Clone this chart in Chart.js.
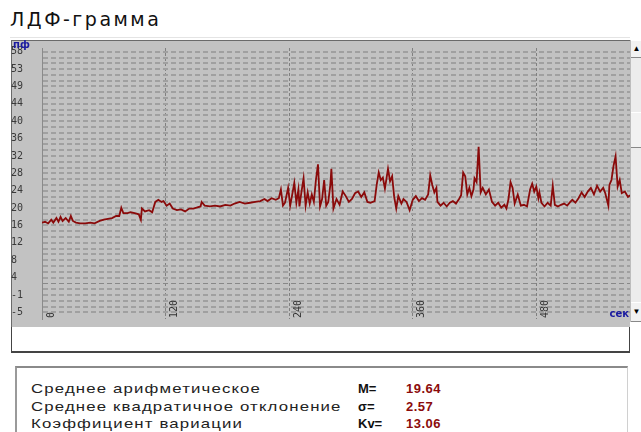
<!DOCTYPE html>
<html>
<head>
<meta charset="utf-8">
<script src="https://cdn.jsdelivr.net/npm/chart.js@4.4.1/dist/chart.umd.min.js"></script>
<style>
  body { margin: 0; width: 641px; height: 432px; background: #fff; position: relative; overflow: hidden; font-family: "Liberation Sans", Arial, sans-serif; }
  #title { position: absolute; left: 10px; top: 8px; font: 19px "DejaVu Sans", sans-serif; letter-spacing: 2.5px; color: #111; }
  #titleLine { position: absolute; left: 10px; top: 37px; width: 620px; height: 1px; background: #e4e4e4; }
  #plot { position: absolute; left: 11px; top: 40px; width: 619px; height: 287px; background: #c2c2c2; box-shadow: inset 1px 1px 0 #6a6a6a; }
  #scroll { position: absolute; left: 630px; top: 40px; width: 11px; height: 282px; background: #ececec; border-left: 1px solid #bdbdbd; }
  .btn { position: absolute; left: 0; width: 11px; background: #f2f2f2; border-top: 1px solid #fff; border-bottom: 1px solid #888; font: 8px sans-serif; color: #000; text-align: center; }
  #under { position: absolute; left: 11px; top: 327px; width: 617px; height: 24px; background: #fff; border: 1px solid #444; border-top: none; border-bottom-width: 2px; }
  #stats { position: absolute; left: 15px; top: 366px; width: 610px; height: 70px; background: #fff; border-top: 2px solid #8a8a8a; border-left: 2px solid #9a9a9a; border-right: 1px solid #d0d0d0; }
  .row { position: absolute; left: 14px; font-size: 13px; color: #222; white-space: nowrap; letter-spacing: 0.9px; transform: scaleX(1.29); transform-origin: left; }
  .sym { position: absolute; left: 341px; font-size: 13px; color: #111; }
  .val { position: absolute; left: 389px; font-size: 13px; font-weight: bold; color: #8b0b0b; letter-spacing: 0.5px; }
</style>
</head>
<body>
<div id="title">ЛДФ-грамма</div>
<div id="titleLine"></div>
<div id="plot"><canvas id="ldf"></canvas></div>
<div id="scroll">
  <div class="btn" style="top:0;height:16px;line-height:16px;">▲</div>
  <div class="btn" style="top:72px;height:34px;"></div>
  <div class="btn" style="top:262px;height:18px;line-height:18px;">▼</div>
</div>
<div id="under"></div>
<div id="stats">
  <div class="row" style="top:13px;">Среднее арифметическое</div>
  <div class="row" style="top:31px;">Среднее квадратичное отклонение</div>
  <div class="row" style="top:48px;">Коэффициент вариации</div>
  <div class="sym" style="top:13px;"><b>M=</b></div>
  <div class="sym" style="top:31px;"><b>σ=</b></div>
  <div class="sym" style="top:48px;"><b>Kv=</b></div>
  <div class="val" style="top:13px;">19.64</div>
  <div class="val" style="top:31px;">2.57</div>
  <div class="val" style="top:48px;">13.06</div>
</div>
<script>
// Время, сек
const seconds = [0,3,6,9,11,14,16,18,20,23,26,28,30,33,37,42,47,51,56,60,
  64,68,72,75,77,79,83,86,90,94,96,97,100,104,107,110,113,116,118,121,
  124,127,131,135,139,143,147,150,154,155,158,163,168,173,178,183,187,192,197,202,
  207,212,216,219,223,227,230,232,234,236,239,241,243,245,247,249,250,252,254,256,
  258,260,262,264,266,268,270,272,274,276,278,280,281,283,286,289,292,295,298,301,
  304,307,310,313,316,319,323,325,327,329,331,333,336,338,340,342,344,346,349,351,
  354,357,360,363,366,369,372,375,377,379,381,383,384,387,390,393,396,399,402,405,
  407,409,411,413,415,417,419,420,422,424,426,428,431,434,437,440,443,446,449,451,
  453,455,457,459,462,465,468,471,474,476,478,480,482,483,485,488,491,494,496,498,
  501,504,507,510,513,515,518,521,524,527,530,533,536,539,542,545,547,550,551,553,
  555,557,559,561,563,566,569,571];

// Показатель микроциркуляции, пф
const ldf = [16.7,16.9,16.5,17.4,16.7,17.8,16.9,18.1,17.1,17.8,16.9,18.3,17.1,16.7,16.5,16.5,16.7,16.5,17.1,17.4,
  17.6,17.8,18.3,18.3,20.3,19.0,19.0,19.2,19.0,18.7,17.4,20.1,19.4,19.7,19.2,21.7,22.2,21.7,21.9,20.8,
  21.3,20.1,19.7,19.9,19.4,20.1,20.1,20.3,20.6,21.7,20.8,20.6,20.8,20.6,21.0,20.8,21.3,21.7,21.3,21.5,
  21.7,21.9,22.4,21.9,22.6,22.2,22.6,24.7,20.8,21.5,25.1,20.8,23.5,26.3,21.5,24.7,20.6,24.2,27.4,20.8,
  24.0,21.3,23.5,21.7,27.0,30.8,20.6,22.4,27.0,20.8,21.7,25.8,29.7,20.1,22.4,21.0,24.2,23.1,21.7,22.4,
  23.8,24.2,22.9,24.0,21.7,21.5,21.9,25.8,28.8,27.0,27.6,24.9,29.7,26.7,27.9,22.9,20.1,23.1,21.3,22.4,
  21.7,19.7,22.2,23.1,21.9,22.6,22.2,23.5,28.1,25.8,24.0,25.1,21.7,20.8,21.5,20.6,21.5,21.9,21.3,22.4,
  23.3,28.8,27.9,23.5,25.1,23.1,24.7,27.4,26.5,35.0,24.0,25.1,23.5,24.7,21.7,20.8,21.5,20.3,21.0,20.1,
  22.4,26.5,25.1,21.3,23.5,20.8,21.0,20.6,24.7,26.1,24.2,25.4,22.6,24.0,21.5,20.6,21.5,20.8,25.6,21.0,
  20.6,21.0,21.3,20.8,21.7,22.2,21.5,22.6,24.0,22.9,24.2,25.1,23.5,25.6,24.2,25.1,23.8,20.8,25.8,27.0,
  30.4,32.7,25.4,27.0,23.8,24.2,22.9,23.3];

// Подписи осей
const yLabels = ['-5','-1','4','8','12','16','20','24','28','32','36','40','44','49','53','58'];
const xTicks = [0, 120, 240, 360, 480];
const yUnit = 'пф';
const xUnit = 'сек';

// Подписи по оси X рисуются внутри поля графика, как в оригинале
const overlayLabels = {
  id: 'overlayLabels',
  afterDraw(chart) {
    const {ctx, chartArea, scales} = chart;
    ctx.save();
    ctx.font = '10px "DejaVu Sans Mono", monospace';
    ctx.fillStyle = '#333';
    ctx.textBaseline = 'middle';
    ctx.textAlign = 'left';
    xTicks.forEach(v => {
      const x = scales.x.getPixelForValue(v) + 9;
      ctx.save();
      ctx.translate(x, chartArea.bottom - 1);
      ctx.rotate(-Math.PI / 2);
      ctx.fillText(String(v), 0, 0);
      ctx.restore();
    });
    ctx.font = 'bold 10px "DejaVu Sans", sans-serif';
    ctx.fillStyle = '#1a1aa0';
    ctx.textAlign = 'right';
    ctx.textBaseline = 'bottom';
    ctx.fillText(xUnit, chartArea.right - 1, chartArea.bottom);
    ctx.textAlign = 'left';
    ctx.textBaseline = 'top';
    ctx.fillText(yUnit, 2, 0);
    ctx.restore();
  }
};

new Chart(document.getElementById('ldf'), {
  type: 'line',
  data: {
    datasets: [{
      data: seconds.map((s, i) => ({x: s, y: ldf[i]})),
      borderColor: '#8a0a0a',
      borderWidth: 1.8,
      pointRadius: 0,
      tension: 0,
      fill: false
    }]
  },
  options: {
    responsive: true,
    maintainAspectRatio: false,
    animation: false,
    layout: {padding: 0},
    plugins: {legend: {display: false}, tooltip: {enabled: false}},
    scales: {
      x: {
        type: 'linear', min: 0, max: 571,
        afterBuildTicks: scale => { scale.ticks = xTicks.map(v => ({value: v})); },
        afterFit: scale => { scale.height = 0; },
        ticks: {display: false},
        grid: {color: '#808080', lineWidth: 1, drawTicks: false},
        border: {display: false, dash: [3, 2]}
      },
      y: {
        min: -6.6, max: 58.9,
        afterBuildTicks: scale => {
          scale.ticks = [];
          for (let i = 0; i <= 45; i++) scale.ticks.push({value: -5 + i * 1.4});
        },
        afterFit: scale => { scale.width = 31; },
        ticks: {
          autoSkip: false,
          crossAlign: 'far',
          padding: 2,
          color: '#3a3a3a',
          font: {family: '"DejaVu Sans Mono", monospace', size: 10},
          callback: (v, i) => (i % 3 === 0 ? yLabels[i / 3] : '')
        },
        grid: {
          drawTicks: false,
          color: ctx => (ctx.index === 5 ? '#888888' : '#a0a0a0'),
          lineWidth: ctx => (ctx.index === 5 ? 1 : 2)
        },
        border: {display: true, color: '#8a8a8a', width: 1, dash: [5, 3]}
      }
    }
  },
  plugins: [overlayLabels]
});
</script>
</body>
</html>
